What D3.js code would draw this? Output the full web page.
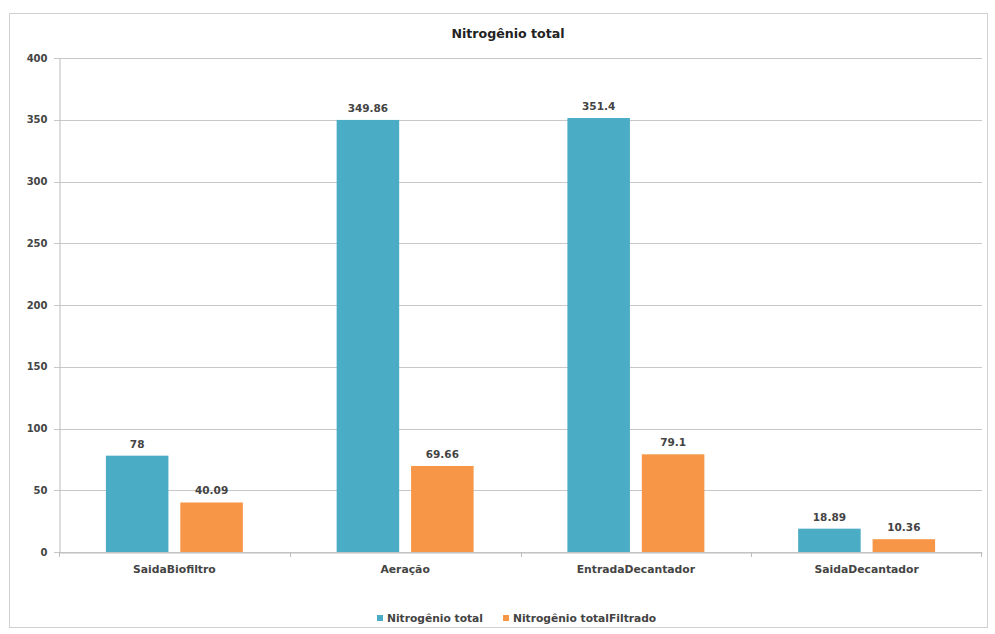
<!DOCTYPE html>
<html><head><meta charset="utf-8">
<script src="https://cdn.jsdelivr.net/npm/d3@7/dist/d3.min.js"></script>
<style>body{margin:0;background:#fff;} text{font-family:"DejaVu Sans",Verdana,sans-serif;}</style>
</head><body><svg id="c" width="995" height="634"></svg>
<script>
const categories = ["SaidaBiofiltro", "Aeração", "EntradaDecantador", "SaidaDecantador"];
const seriesNames = ["Nitrogênio total", "Nitrogênio totalFiltrado"];
const totalValues = [78, 349.86, 351.4, 18.89];
const filteredValues = [40.09, 69.66, 79.1, 10.36];
const labelsTotal = ["78", "349.86", "351.4", "18.89"];
const labelsFiltered = ["40.09", "69.66", "79.1", "10.36"];
const yTicks = [0, 50, 100, 150, 200, 250, 300, 350, 400];
const colors = ["#4bacc6", "#f79646"];

(function () {
const svg = d3.select("#c");
svg.append("rect").attr("x", 9.5).attr("y", 13.5).attr("width", 978).attr("height", 614)
  .attr("fill", "#fff").attr("stroke", "#d0d0d0");

const pL = 59, pR = 982, pT = 58, pB = 552;
const x = d3.scaleBand().domain(categories).range([pL, pR]);
const x1 = d3.scaleBand().domain([0, 1]).range([0, x.bandwidth()]).paddingInner(0.16).paddingOuter(0.63);
const y = d3.scaleLinear().domain([0, 400]).range([pB, pT]);

// gridlines
svg.append("g").selectAll("line").data(yTicks).join("line")
  .attr("x1", pL - 5).attr("x2", pR)
  .attr("y1", d => Math.round(y(d)) + 0.5).attr("y2", d => Math.round(y(d)) + 0.5)
  .attr("stroke", "#c8c8c8").attr("stroke-width", 1);

// y axis
const yAxis = d3.axisLeft(y).tickValues(yTicks).tickSize(0).tickPadding(12);
const gy = svg.append("g").attr("transform", `translate(${pL + 0.5},0)`).call(yAxis);
gy.select(".domain").attr("stroke", "#bcbcbc");
gy.selectAll("text").attr("font-size", 10).attr("font-weight", "bold").attr("fill", "#444")
  .attr("font-family", "DejaVu Sans");

// bars
const series = [totalValues, filteredValues];
const lbls = [labelsTotal, labelsFiltered];
series.forEach((vals, si) => {
  const g = svg.append("g");
  g.selectAll("rect").data(vals).join("rect")
    .attr("x", (d, i) => x(categories[i]) + x1(si))
    .attr("width", x1.bandwidth())
    .attr("y", d => y(d))
    .attr("height", d => y(0) - y(d))
    .attr("fill", colors[si]);
  g.selectAll("text").data(vals).join("text")
    .attr("x", (d, i) => x(categories[i]) + x1(si) + x1.bandwidth() / 2)
    .attr("y", d => y(d) - 8)
    .attr("text-anchor", "middle")
    .attr("font-size", 10.5).attr("font-weight", "bold").attr("fill", "#444")
    .text((d, i) => lbls[si][i]);
});

// x axis
const xAxis = d3.axisBottom(x).tickSize(0).tickPadding(13);
const gx = svg.append("g").attr("transform", `translate(0,${pB + 0.5})`).call(xAxis);
gx.select(".domain").attr("stroke", "#bcbcbc");
gx.selectAll("text").attr("font-size", 10.8).attr("font-weight", "bold").attr("fill", "#444")
  .attr("font-family", "DejaVu Sans");
svg.append("g").selectAll("line").data(categories.concat(["end"])).join("line")
  .attr("x1", (d, i) => i < categories.length ? Math.round(x(d)) + 0.5 : pR - 0.5)
  .attr("x2", (d, i) => i < categories.length ? Math.round(x(d)) + 0.5 : pR - 0.5)
  .attr("y1", pB).attr("y2", pB + 5).attr("stroke", "#bcbcbc");

// title
svg.append("text").attr("x", 508).attr("y", 38).attr("text-anchor", "middle")
  .attr("font-size", 12.6).attr("font-weight", "bold").attr("fill", "#222").text("Nitrogênio total");

// legend
const leg = svg.append("g");
const legX = [377, 503];
seriesNames.forEach((n, i) => {
  leg.append("rect").attr("x", legX[i]).attr("y", 615).attr("width", 6).attr("height", 6).attr("fill", colors[i]);
  leg.append("text").attr("x", legX[i] + 10).attr("y", 622).attr("font-size", 10.7)
    .attr("font-weight", "bold").attr("fill", "#444").text(n);
});
})();
</script></body></html>
